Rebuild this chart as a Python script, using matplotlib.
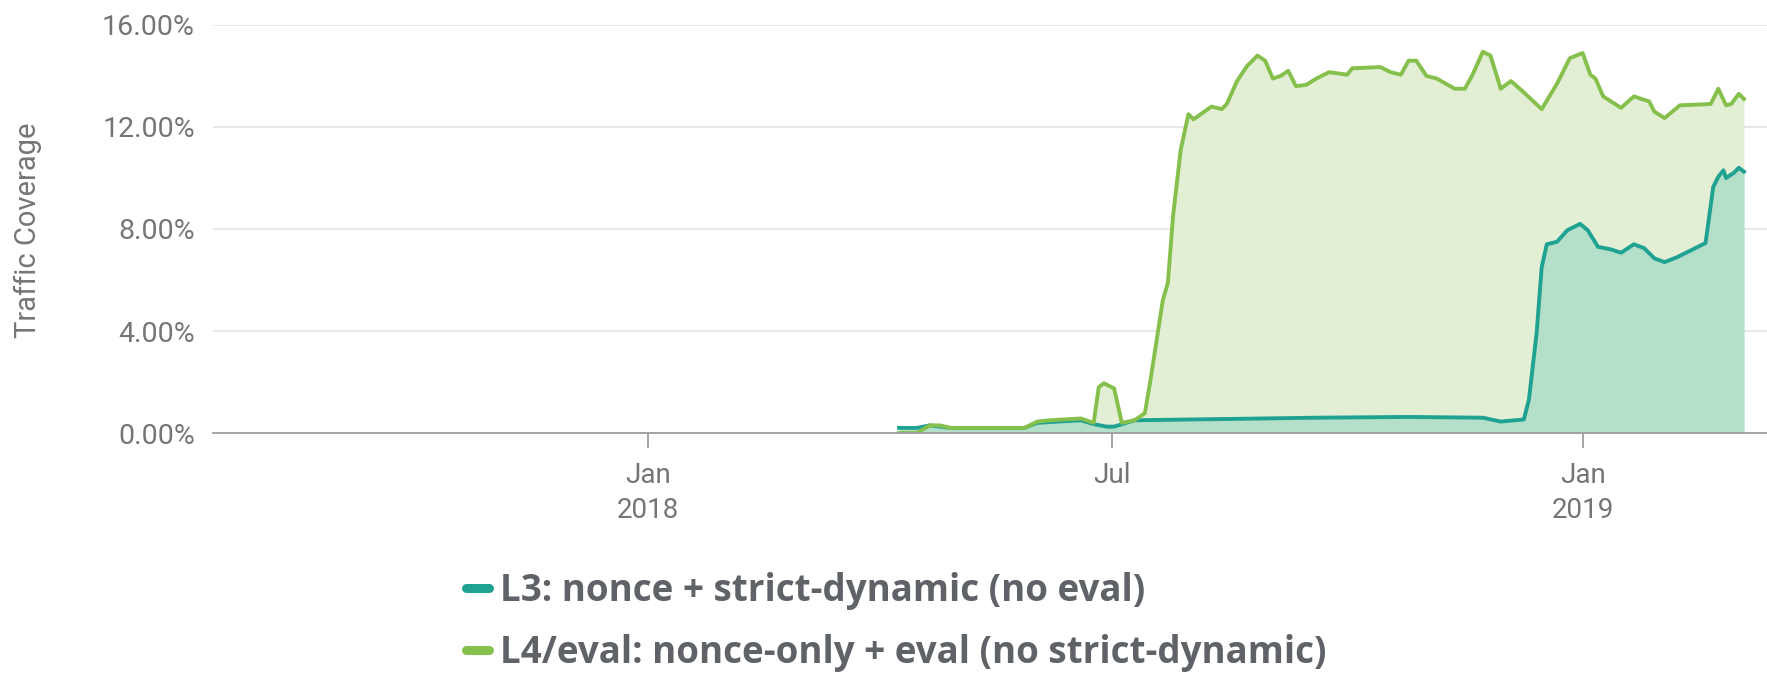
import pandas as pd
import matplotlib
matplotlib.use("Agg")
import matplotlib.pyplot as plt
from matplotlib.lines import Line2D

plt.rcParams["font.family"] = ["Roboto", "DejaVu Sans"]

# L4/eval series (green)
l4_dates = [
    "2018-04-09", "2018-04-16", "2018-04-21", "2018-04-25", "2018-04-29", "2018-05-28",
    "2018-06-02", "2018-06-07", "2018-06-19", "2018-06-24", "2018-06-26", "2018-06-28",
    "2018-07-02", "2018-07-05", "2018-07-10", "2018-07-14", "2018-07-16", "2018-07-19",
    "2018-07-21", "2018-07-23", "2018-07-25", "2018-07-28", "2018-07-31", "2018-08-02",
    "2018-08-09", "2018-08-13", "2018-08-15", "2018-08-19", "2018-08-23", "2018-08-27",
    "2018-08-30", "2018-09-02", "2018-09-05", "2018-09-08", "2018-09-11", "2018-09-15",
    "2018-09-19", "2018-09-24", "2018-10-01", "2018-10-03", "2018-10-14", "2018-10-18",
    "2018-10-22", "2018-10-25", "2018-10-28", "2018-11-01", "2018-11-05", "2018-11-12",
    "2018-11-16", "2018-11-19", "2018-11-23", "2018-11-26", "2018-11-30", "2018-12-04",
    "2018-12-08", "2018-12-16", "2018-12-22", "2018-12-27", "2019-01-01", "2019-01-04",
    "2019-01-06", "2019-01-09", "2019-01-16", "2019-01-21", "2019-01-27", "2019-01-29",
    "2019-02-02", "2019-02-08", "2019-02-20", "2019-02-23", "2019-02-26", "2019-02-28",
    "2019-03-03", "2019-03-05",
]
l4_values = [
    0.0, 0.0, 0.3, 0.3, 0.2, 0.2,
    0.45, 0.5, 0.57, 0.4, 1.8, 1.95,
    1.75, 0.4, 0.5, 0.78, 1.95, 3.9,
    5.2, 5.9, 8.5, 11.1, 12.5, 12.3,
    12.8, 12.7, 12.9, 13.8, 14.4, 14.8,
    14.6, 13.9, 14.0, 14.2, 13.6, 13.65,
    13.9, 14.15, 14.05, 14.3, 14.35, 14.15,
    14.05, 14.6, 14.6, 14.0, 13.9, 13.5,
    13.5, 14.05, 14.95, 14.8, 13.5, 13.8,
    13.45, 12.7, 13.7, 14.7, 14.9, 14.05,
    13.9, 13.2, 12.75, 13.2, 13.0, 12.6,
    12.35, 12.85, 12.9, 13.5, 12.85, 12.9,
    13.3, 13.1,
]

# L3 series (teal)
l3_dates = [
    "2018-04-09", "2018-04-16", "2018-04-21", "2018-04-29", "2018-05-28", "2018-06-02",
    "2018-06-19", "2018-06-24", "2018-06-29", "2018-07-02", "2018-07-10", "2018-08-15",
    "2018-09-19", "2018-10-25", "2018-11-23", "2018-11-30", "2018-12-09", "2018-12-11",
    "2018-12-14", "2018-12-16", "2018-12-18", "2018-12-22", "2018-12-26", "2018-12-31",
    "2019-01-03", "2019-01-07", "2019-01-12", "2019-01-16", "2019-01-21", "2019-01-25",
    "2019-01-29", "2019-02-02", "2019-02-07", "2019-02-13", "2019-02-18", "2019-02-21",
    "2019-02-23", "2019-02-25", "2019-02-26", "2019-03-01", "2019-03-03", "2019-03-05",
]
l3_values = [
    0.2, 0.2, 0.3, 0.2, 0.2, 0.4,
    0.5, 0.35, 0.25, 0.25, 0.5, 0.55,
    0.6, 0.63, 0.6, 0.45, 0.53, 1.3,
    3.9, 6.5, 7.4, 7.5, 7.95, 8.2,
    7.95, 7.3, 7.2, 7.07, 7.4, 7.25,
    6.85, 6.7, 6.9, 7.2, 7.45, 9.65,
    10.05, 10.3, 10.0, 10.2, 10.4, 10.25,
]

labels = ["L3: nonce + strict-dynamic (no eval)", "L4/eval: nonce-only + eval (no strict-dynamic)"]
y_ticks = [0, 4, 8, 12, 16]
x_ticks = ["2018-01-01", "2018-07-01", "2019-01-01"]
x_tick_labels = ["Jan\n2018", "Jul", "Jan\n2019"]

teal, teal_fill = "#1fa291", "#b4dfc9"
green, green_fill = "#86c04c", "#e2efd5"
gray = "#757575"

l4_x = pd.to_datetime(l4_dates)
l3_x = pd.to_datetime(l3_dates)

fig = plt.figure(figsize=(17.67, 6.75), dpi=100)
ax = fig.add_axes([0.1205, 0.3585, 0.8795, 0.6045])

ax.fill_between(l4_x, 0, l4_values, color=green_fill, lw=0)
ax.fill_between(l3_x, 0, l3_values, color=teal_fill, lw=0)
ax.plot(l3_x, l3_values, color=teal, lw=2.8, solid_joinstyle="round")
ax.plot(l4_x, l4_values, color=green, lw=2.8, solid_joinstyle="round")

ax.set_ylim(0, 16)
ax.set_xlim(pd.Timestamp("2017-07-15"), pd.Timestamp("2019-03-14"))
ax.set_yticks(y_ticks)
ax.set_yticklabels([f"{v:.2f}%" for v in y_ticks])
ax.set_xticks(pd.to_datetime(x_ticks))
ax.set_xticklabels(x_tick_labels, linespacing=1.35)

ax.grid(axis="y", color="#e3e3e3", lw=1.2)
ax.set_axisbelow(True)
for s in ["top", "right", "left"]:
    ax.spines[s].set_visible(False)
ax.spines["bottom"].set_color("#9e9e9e")
ax.spines["bottom"].set_linewidth(1.3)
ax.spines["bottom"].set_zorder(5)

ax.tick_params(axis="y", length=0, pad=13, labelsize=20.5, labelcolor=gray)
ax.tick_params(axis="x", length=11, width=1.3, color="#9e9e9e", pad=10,
               labelsize=20, labelcolor=gray)

fig.text(0.016, 0.659, "Traffic Coverage", rotation=90, ha="center", va="center",
         fontsize=21, color=gray)

handles = [Line2D([0], [0], color=teal, lw=6.5, solid_capstyle="round"),
           Line2D([0], [0], color=green, lw=6.5, solid_capstyle="round")]
fig.legend(handles, labels, loc="upper left", bbox_to_anchor=(0.264, 0.153),
           frameon=False, borderpad=0, borderaxespad=0,
           handlelength=0.6, handletextpad=0.3, labelspacing=0.66,
           prop={"family": "Open Sans", "weight": "bold", "size": 26.5},
           labelcolor="#5f6368")

fig.savefig("out.png", dpi=100)
